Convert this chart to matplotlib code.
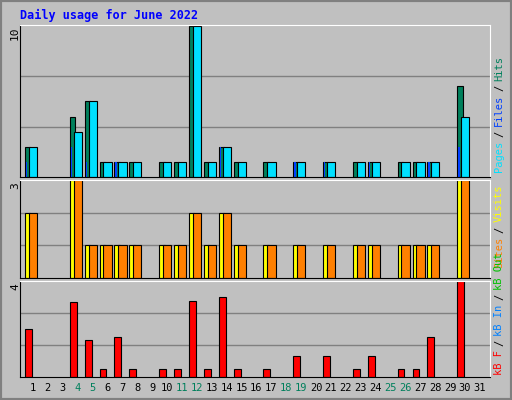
import matplotlib.pyplot as plt
from matplotlib.patches import Rectangle

days = list(range(1, 32))
weekend = [4, 5, 11, 12, 18, 19, 25, 26]

active = [1, 4, 5, 6, 7, 8, 10, 11, 12, 13, 14, 15, 17, 19, 21, 23, 24, 26, 27, 28, 30]
hits = [2, 4, 5, 1, 1, 1, 1, 1, 10, 1, 2, 1, 1, 1, 1, 1, 1, 1, 1, 1, 6]
files = [2, 3, 5, 1, 1, 1, 1, 1, 10, 1, 2, 1, 1, 1, 1, 1, 1, 1, 1, 1, 4]
pages = [1, 2, 1, 0, 1, 0, 0, 0, 0, 0, 2, 0, 0, 1, 1, 0, 1, 0, 0, 1, 2]
visits = [2, 3, 1, 1, 1, 1, 1, 1, 2, 1, 2, 1, 1, 1, 1, 1, 1, 1, 1, 1, 3]
sites = [2, 3, 1, 1, 1, 1, 1, 1, 2, 1, 2, 1, 1, 1, 1, 1, 1, 1, 1, 1, 3]
kbytes = [2.0, 3.15, 1.55, 0.35, 1.67, 0.35, 0.35, 0.35, 3.2, 0.35, 3.35, 0.35,
          0.35, 0.9, 0.9, 0.35, 0.9, 0.35, 0.35, 1.67, 4.0]

W, H = 512, 400
bg = '#C0C0C0'
fig = plt.figure(figsize=(W / 100, H / 100), dpi=100, facecolor=bg)
mono = 'DejaVu Sans Mono'

# outer bevel
fig.patches.append(Rectangle((0, 0), 1, 1, transform=fig.transFigure, fill=False,
                             edgecolor='#808080', linewidth=3))
fig.text(20 / W, 1 - 15 / H, 'Daily usage for June 2022', color='#0000FF',
         fontsize=8.5, fontweight='bold', family=mono, va='center')


def panel(top, bottom, ymax):
    ax = fig.add_axes([20 / W, 1 - bottom / H, 470 / W, (bottom - top) / H])
    ax.set_facecolor(bg)
    ax.set_xlim(0.13, 31.67)
    ax.set_ylim(0, ymax * 1.005)
    for f in (1 / 3, 2 / 3):
        ax.axhline(ymax * f, color='#808080', linewidth=1, zorder=0)
    ax.set_xticks([])
    ax.set_yticks([])
    for s in ax.spines.values():
        s.set_color('white')
    ax.spines['left'].set_color('black')
    ax.spines['bottom'].set_color('black')
    fig.text(15 / W, 1 - (top + 2) / H, str(ymax), rotation=90, fontsize=8,
             family=mono, ha='center', va='top')
    return ax


ax1 = panel(25, 177, 10)
x = [d - 0.53 for d in active]
ax1.bar(x, hits, width=0.36, align='edge', color='#00805C', edgecolor='black', lw=0.8)
ax1.bar([d - 0.27 for d in active], files, width=0.55, align='edge',
        color='#00E0FF', edgecolor='black', lw=0.8)
ax1.bar([d - 0.47 for d in active], pages, width=0.1, align='edge',
        color='#0040FF', edgecolor='none')

ax2 = panel(180, 278, 3)
ax2.bar(x, visits, width=0.36, align='edge', color='#FFFF00', edgecolor='black', lw=0.8)
ax2.bar([d - 0.27 for d in active], sites, width=0.55, align='edge',
        color='#FF8000', edgecolor='black', lw=0.8)

ax3 = panel(281, 377, 4)
ax3.bar(x, kbytes, width=0.46, align='edge', color='#FF0000', edgecolor='black', lw=0.8)

for d in days:
    fig.text((20 + (d - 0.13) * 14.9) / W, 1 - 388 / H, str(d), fontsize=7.5,
             family=mono, ha='center', va='center',
             color='#00805C' if d in weekend else 'black')

renderer = fig.canvas.get_renderer()


def side(parts, ybottom):
    # stack rotated texts upward from ybottom (pixels from top)
    y = H - ybottom
    for t, c in parts:
        txt = fig.text(499 / W, y / H, t, rotation=90, color=c, fontsize=7.5,
                       family=mono, ha='center', va='bottom')
        y += txt.get_window_extent(renderer).height + 4


side([('Pages', '#00E0FF'), ('/', '#000000'), ('Files', '#0040FF'),
      ('/', '#000000'), ('Hits', '#00805C')], 172)
side([('Sites', '#FF8000'), ('/', '#000000'), ('Visits', '#FFFF00')], 268)
side([('kB F', '#FF0000'), ('/', '#000000'), ('kB In', '#0080FF'),
      ('/', '#000000'), ('kB Out', '#00C000')], 375)

fig.savefig('out.png', dpi=100, facecolor=bg)
